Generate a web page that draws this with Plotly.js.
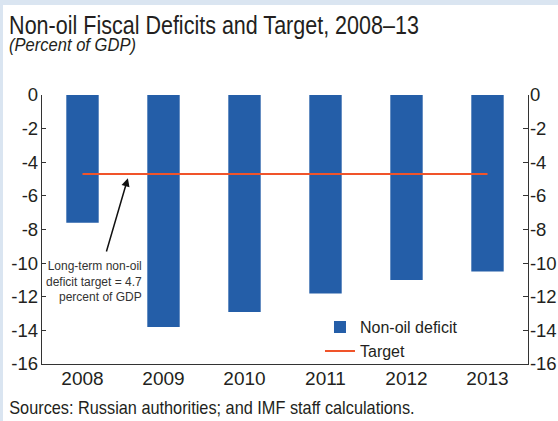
<!DOCTYPE html>
<html>
<head>
<meta charset="utf-8">
<script src="https://cdn.plot.ly/plotly-3.0.1.min.js"></script>
<style>
  html, body { margin: 0; padding: 0; background: #dae5f1; }
  #wrap { position: absolute; left: 3px; top: 5px; width: 555px; height: 416px; background: #ffffff; }
  #chart { width: 555px; height: 416px; }
</style>
</head>
<body>
<div id="wrap"><div id="chart"></div></div>
<script>
// Non-oil fiscal deficit, percent of GDP
const years = ['2008', '2009', '2010', '2011', '2012', '2013'];
const deficit = [-7.6, -13.8, -12.9, -11.8, -11.0, -10.5];
const target = [-4.7, -4.7, -4.7, -4.7, -4.7, -4.7];
const seriesNames = ['Non-oil deficit', 'Target'];
const yTicks = [0, -2, -4, -6, -8, -10, -12, -14, -16];
const yTickText = ['0', '-2', '-4', '-6', '-8', '-10', '-12', '-14', '-16'];

const sans = '"Liberation Sans", Arial, sans-serif';
const ink = '#231f20';
const axisCol = '#333333';

const traces = [
  {
    type: 'bar', x: years, y: deficit, name: seriesNames[0],
    marker: { color: '#245ea8' }, width: 0.4,
    hoverinfo: 'x+y'
  },
  {
    type: 'scatter', mode: 'lines', x: years, y: target, name: seriesNames[1],
    line: { color: '#f0542a', width: 2 }, yaxis: 'y2'
  }
];

const yRange = [-16, 0];

// horizontal squeeze for the condensed heading and source line
const squeeze = [0.861, 0.895, 0.906];

const layout = {
  width: 555, height: 416,
  margin: { l: 39, r: 30, t: 90, b: 57 },
  paper_bgcolor: '#ffffff', plot_bgcolor: '#ffffff',
  font: { family: sans, color: ink, size: 19 },
  showlegend: true,
  legend: {
    x: 0.572, y: 0.2, xanchor: 'left', yanchor: 'top',
    font: { family: sans, size: 16, color: ink },
    bgcolor: 'rgba(0,0,0,0)', itemwidth: 30, tracegroupgap: 0
  },
  xaxis: {
    type: 'category', range: [-0.5, 5.5],
    showline: true, linecolor: axisCol, linewidth: 1.2,
    ticks: '', showgrid: false, zeroline: false, ticklabelstandoff: -3,
    tickfont: { family: sans, size: 19, color: ink }
  },
  xaxis2: {
    overlaying: 'x', side: 'top', type: 'linear', range: [-0.5, 5.5],
    tickvals: years.slice(1).map((_, i) => i + 0.5),
    ticks: 'inside', ticklen: 4, tickcolor: axisCol,
    showticklabels: false, showline: true, linecolor: axisCol, linewidth: 1.2,
    showgrid: false, zeroline: false
  },
  yaxis: {
    range: yRange, tickvals: yTicks, ticktext: yTickText,
    ticks: 'inside', ticklen: 4, tickcolor: axisCol,
    showline: true, linecolor: axisCol, linewidth: 1.2,
    showgrid: false, zeroline: false, ticklabelstandoff: -1,
    tickfont: { family: sans, size: 18.5, color: ink }
  },
  yaxis2: {
    overlaying: 'y', side: 'right', range: yRange,
    tickvals: yTicks, ticktext: yTickText,
    ticks: 'inside', ticklen: 5, tickcolor: axisCol,
    showline: true, linecolor: axisCol, linewidth: 1.2,
    showgrid: false, zeroline: false, ticklabelstandoff: -3,
    tickfont: { family: sans, size: 18.5, color: ink }
  },
  annotations: [
    {
      xref: 'paper', yref: 'paper', x: 0, y: 1, xanchor: 'left', yanchor: 'middle',
      xshift: -35, yshift: 70.5, showarrow: false,
      text: 'Non-oil Fiscal Deficits and Target, 2008–13',
      font: { family: sans, size: 25, color: ink }
    },
    {
      xref: 'paper', yref: 'paper', x: 0, y: 1, xanchor: 'left', yanchor: 'middle',
      xshift: -35, yshift: 51, showarrow: false,
      text: '<i>(Percent of GDP)</i>',
      font: { family: sans, size: 18.5, color: ink }
    },
    {
      xref: 'paper', yref: 'paper', x: 0, y: 0, xanchor: 'left', yanchor: 'middle',
      xshift: -35, yshift: -43.5, showarrow: false,
      text: 'Sources: Russian authorities; and IMF staff calculations.',
      font: { family: sans, size: 18, color: ink }
    },
    {
      // note on the long-term target
      xref: 'x', yref: 'y', x: 0.76, y: -9.65, xanchor: 'right', yanchor: 'top',
      showarrow: false, align: 'right',
      text: 'Long-term non-oil<br>deficit target = 4.7<br>percent of GDP',
      font: { family: sans, size: 12, color: '#333333' }
    },
    {
      // arrow pointing at the target line
      xref: 'x', yref: 'y', x: 0.56, y: -4.95,
      axref: 'x', ayref: 'y', ax: 0.29, ay: -9.4,
      text: '', showarrow: true, arrowhead: 2, arrowsize: 1.1, arrowwidth: 1.5,
      arrowcolor: '#111111', standoff: 0, startstandoff: 0
    }
  ]
};

Plotly.newPlot('chart', traces, layout, { displayModeBar: false, staticPlot: true }).then(gd => {
  const texts = gd.querySelectorAll('.annotation .annotation-text');
  squeeze.forEach((s, i) => {
    const el = texts[i];
    if (!el) return;
    const bb = el.getBBox();
    const x0 = bb.x;
    const prev = el.getAttribute('transform') || '';
    el.setAttribute('transform',
      prev + ' translate(' + x0 + ',0) scale(' + s + ',1) translate(' + (-x0) + ',0)');
  });
});
</script>
</body>
</html>
